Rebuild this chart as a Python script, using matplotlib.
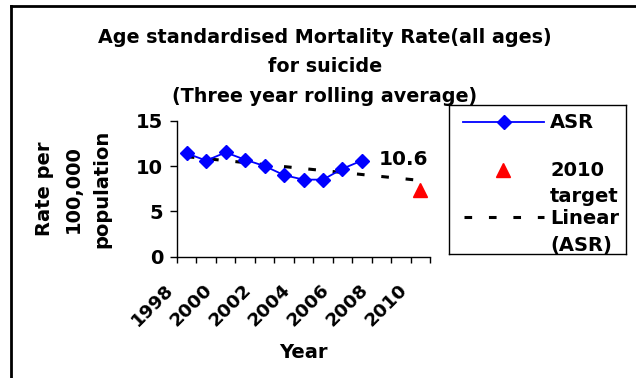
import numpy as np
import matplotlib.pyplot as plt
from matplotlib.transforms import ScaledTranslation

plt.rcParams['font.family'] = ['DejaVu Sans']
plt.rcParams['font.weight'] = 'bold'

# three year rolling average, age standardised rate per 100,000
years = list(range(1998, 2011))
asr_years = list(range(1998, 2008))
asr = [11.4, 10.6, 11.5, 10.7, 10.0, 9.0, 8.5, 8.5, 9.7, 10.6]
target_year = 2010
target = 7.4

W, H = 636, 378
fig = plt.figure(figsize=(W / 100, H / 100), dpi=100)
ax = fig.add_axes([177 / W, 1 - 256.7 / H, 253 / W, 136 / H])

pos = {y: i + 1 for i, y in enumerate(years)}
xa = np.array([pos[y] for y in asr_years])

ax.plot(xa, asr, color='#0000ff', lw=1.3, marker='D', ms=7.5, zorder=3)
ax.plot([pos[target_year]], [target], ls='none', marker='^', color='#ff0000',
        ms=9.5, zorder=3)

# linear trend of ASR, forecast on to 2010
k, b = np.polyfit(xa, asr, 1)
xt = np.arange(1, len(years) + 1)
ax.plot(xt, k * xt + b, color='black', lw=2.2, dashes=(2.5, 5.5), zorder=2)

ax.annotate(f'{asr[-1]:.1f}', (xa[-1], asr[-1]), xytext=(42, 1),
            textcoords='offset pixels', ha='center', va='center',
            fontsize=14.5, fontweight='bold')

ax.set_xlim(0.5, len(years) + 0.5)
ax.set_ylim(0, 15)
ax.set_yticks([0, 5, 10, 15])
ax.tick_params(axis='y', direction='out', length=5, width=1, labelsize=14, pad=5)

ax.set_xticks(np.arange(0.5, len(years) + 1, 1), minor=True)
ax.set_xticks(xt[::2])
ax.set_xticklabels([str(y) for y in years[::2]], rotation=45,
                   ha='right', va='center', rotation_mode='anchor', fontsize=13.3)
ax.tick_params(axis='x', which='major', length=0, pad=22)
ax.tick_params(axis='x', which='minor', direction='out', length=4.5, width=1)
shift = ScaledTranslation(-16 / 100, 0, fig.dpi_scale_trans)
for lab in ax.get_xticklabels():
    lab.set_transform(lab.get_transform() + shift)

for side in ['top', 'right']:
    ax.spines[side].set_visible(False)
for side in ['left', 'bottom']:
    ax.spines[side].set_linewidth(1)

ax.set_ylabel('Rate per\n100,000\npopulation', fontsize=14, fontweight='bold',
              linespacing=1.65, va='center')
ax.yaxis.set_label_coords(-0.41, 0.5)
ax.set_xlabel('Year', fontsize=14, fontweight='bold', va='center')
ax.xaxis.set_label_coords(0.5, -0.708)

fig.text(325 / W, 1 - 67 / H, 'Age standardised Mortality Rate(all ages)\nfor suicide\n'
         '(Three year rolling average)', ha='center', va='center',
         fontsize=13.8, fontweight='bold', linespacing=1.68)

# legend box, laid out in pixels from its top left corner
lax = fig.add_axes([449 / W, 1 - 254 / H, 177 / W, 149 / H])
lax.set_xlim(0, 177)
lax.set_ylim(149, 0)
lax.set_xticks([])
lax.set_yticks([])
for sp in lax.spines.values():
    sp.set_linewidth(1)
lax.plot([14, 95], [17, 17], color='#0000ff', lw=1.3)
lax.plot([55], [17], marker='D', color='#0000ff', ms=7.5)
lax.plot([54], [65], marker='^', color='#ff0000', ms=9.5)
lax.plot([15, 95], [112, 112], color='black', lw=2.2, dashes=(2.5, 5.5))
legend_rows = [('ASR', 17), ('2010', 65), ('target', 91), ('Linear', 113), ('(ASR)', 140)]
for txt, yy in legend_rows:
    lax.text(101, yy, txt, ha='left', va='center', fontsize=14, fontweight='bold')

# outer frame lines
fig.add_artist(plt.Line2D([11 / W, 11 / W], [0, 1 - 6 / H], color='black', lw=2,
                          transform=fig.transFigure))
fig.add_artist(plt.Line2D([11 / W, 1], [1 - 6 / H, 1 - 6 / H], color='black', lw=2,
                          transform=fig.transFigure))

fig.savefig('out.png', dpi=100)
